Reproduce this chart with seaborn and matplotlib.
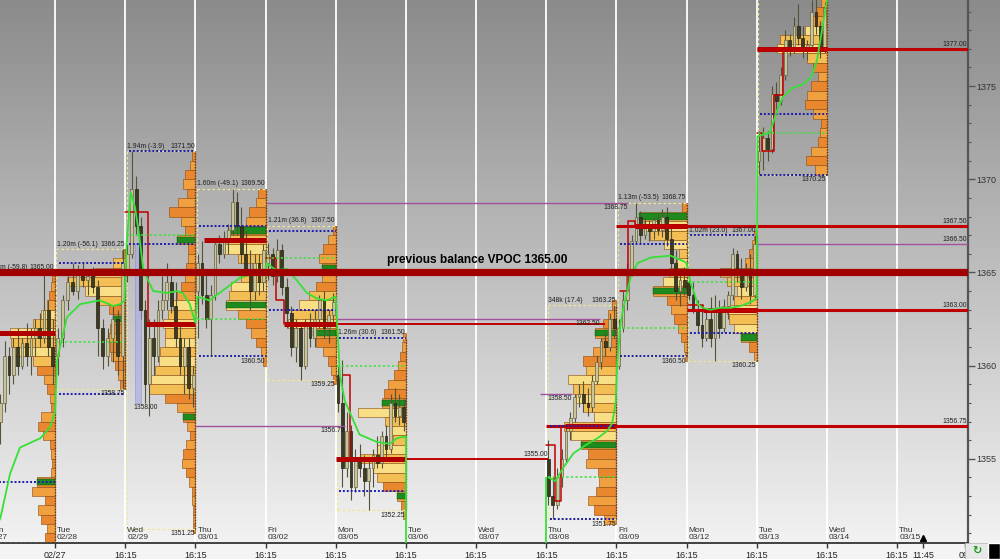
import numpy as np
import pandas as pd
import matplotlib
matplotlib.use("Agg")
import matplotlib.pyplot as plt
import seaborn as sns
from matplotlib import font_manager
from matplotlib.colors import LinearSegmentedColormap
from matplotlib.patches import Rectangle

sns.set_theme(style="white")
avail = {f.name for f in font_manager.fontManager.ttflist}
NARROW = "Liberation Sans Narrow" if "Liberation Sans Narrow" in avail else "Liberation Sans"
plt.rcParams["font.family"] = [NARROW, "DejaVu Sans"]

# ---------------- data ----------------
sessions = ["02/27", "02/28", "02/29", "03/01", "03/02", "03/05", "03/08", "03/09", "03/12", "03/13"]
sess_end = [0, 1, 2, 3, 4, 5, 8, 9, 10, 11]          # day slot where each session closes
sess_high = [1365.00, 1366.25, 1371.50, 1369.50, 1367.50, 1361.50, 1363.25, 1368.75, 1367.00, 1380.75]
sess_low = [1350.50, 1358.75, 1351.25, 1360.50, 1359.25, 1352.25, 1351.75, 1360.50, 1360.25, 1370.25]
vol_labels = ["1.38m (-59.8)", "1.20m (-56.1)", "1.94m (-3.9)", "1.60m (-49.1)", "1.21m (36.8)",
              "1.26m (30.6)", "348k (17.4)", "1.13m (-53.5)", "1.02m (23.0)", ""]
vpoc = [1361.75, 1365.00, 1362.25, 1366.75, 1362.25, 1355.00, 1356.75, 1367.50, 1363.00, 1377.00]
vpoc_from = [0.0, 0.1, 0.29, 0.13, 0.27, 0.0, 0.27, 0.27, 0.24, 0.0]
ib_high = [np.nan, 1365.50, 1371.50, 1367.50, 1367.25, 1361.50, 1356.75, 1366.50, 1367.00, 1373.50]
ib_low = [1353.75, 1358.50, 1366.50, 1360.50, 1363.00, 1353.25, 1351.75, 1360.50, 1361.75, 1370.25]
open_px = [np.nan, 1361.25, 1367.00, 1362.50, 1365.75, 1360.00, 1354.00, 1362.00, 1364.50, 1372.50]
va_lo = [1360.0, 1363.5, 1358.5, 1363.0, 1362.0, 1354.0, 1356.0, 1364.5, 1362.0, 1376.5]
va_hi = [1363.0, 1365.5, 1363.5, 1367.0, 1364.0, 1357.5, 1360.0, 1368.0, 1365.0, 1378.0]

# volume profiles: top price level, then volume per 0.5 pt going down
prof_top = [1364.75, 1366.0, 1371.25, 1369.25, 1367.25, 1361.5, 1363.25, 1368.5, 1367.0, 1380.0]
prof_0227 = [3, 4, 6, 8, 14, 22, 45, 44, 42, 22, 18, 11, 8, 5, 4, 14, 17, 12, 5, 4, 3, 4, 18, 23, 10, 17, 14, 8, 10]
prof_0228 = [3, 12, 30, 58, 40, 26, 16, 12, 15, 16, 15, 14, 10, 7, 5]
prof_0229 = [3, 5, 10, 12, 8, 17, 26, 14, 10, 18, 7, 7, 9, 10, 14, 18, 22, 27, 32, 30, 30, 35, 36, 40, 44, 46,
             30, 18, 12, 8, 5, 9, 12, 13, 9, 6, 3, 3, 2, 2, 2]
prof_0301 = [8, 10, 17, 20, 35, 38, 42, 28, 14, 25, 35, 37, 40, 28, 20, 15, 10, 5, 3]
prof_0302 = [3, 8, 13, 17, 14, 14, 20, 27, 37, 45, 48, 23, 20, 13, 8, 5, 3]
prof_0305 = [3, 4, 6, 8, 12, 18, 22, 24, 48, 21, 16, 13, 29, 46, 33, 29, 23, 9, 5, 3]
prof_0308 = [4, 8, 13, 21, 15, 23, 33, 30, 48, 43, 40, 33, 22, 52, 45, 35, 28, 30, 18, 17, 20, 28, 22, 12]
prof_0309 = [5, 48, 43, 37, 23, 8, 10, 18, 24, 34, 20, 16, 13, 9, 6, 3, 2]
prof_0312 = [3, 5, 8, 12, 37, 30, 20, 23, 30, 28, 23, 16, 8, 3]
prof_0313 = [4, 6, 11, 16, 22, 47, 50, 20, 14, 9, 16, 20, 22, 14, 6, 7, 9, 16, 21, 12]
profiles = [prof_0227, prof_0228, prof_0229, prof_0301, prof_0302, prof_0305, prof_0308, prof_0309, prof_0312, prof_0313]
green_levels = [[1353.75], [1362.5], [1366.75, 1357.25], [1367.25, 1363.25], [1365.25, 1361.75],
                [1358.0, 1353.0], [1361.75, 1355.75], [1368.0, 1364.0], [1365.0, 1361.5], []]

# candles (open, high, low, close)
cdl_0227 = [(1356.0, 1357.0, 1353.5, 1355.0), (1355.0, 1356.5, 1354.0, 1356.0), (1356.0, 1357.5, 1355.5, 1357.0),
            (1357.0, 1358.5, 1355.8, 1358.0), (1358.0, 1361.3, 1357.5, 1360.5), (1360.5, 1361.0, 1358.5, 1359.5),
            (1359.5, 1361.5, 1359.0, 1361.0), (1361.0, 1362.0, 1359.5, 1360.0), (1360.0, 1361.5, 1359.8, 1361.2),
            (1361.2, 1362.3, 1360.0, 1360.5), (1360.5, 1362.0, 1359.5, 1361.5), (1361.5, 1362.5, 1360.5, 1362.0),
            (1362.0, 1362.8, 1361.0, 1361.5), (1361.5, 1365.0, 1361.2, 1363.0), (1363.0, 1363.5, 1360.5, 1361.0),
            (1361.0, 1362.5, 1359.0, 1360.0)]
cdl_0228 = [(1360.5, 1362.0, 1359.5, 1361.5), (1361.5, 1363.8, 1361.0, 1363.5), (1363.5, 1364.8, 1363.0, 1364.5),
            (1364.5, 1365.5, 1363.8, 1364.0), (1364.0, 1365.4, 1363.6, 1365.0), (1365.0, 1365.5, 1364.2, 1364.6),
            (1364.6, 1365.2, 1363.8, 1364.8), (1364.8, 1365.3, 1363.9, 1364.2), (1364.2, 1364.6, 1360.5, 1362.0),
            (1362.0, 1362.5, 1359.8, 1360.5), (1360.5, 1362.0, 1360.0, 1361.5), (1361.5, 1363.2, 1360.2, 1362.5),
            (1362.5, 1363.0, 1359.5, 1360.5), (1360.5, 1366.25, 1358.75, 1365.5)]
cdl_0229 = [(1365.0, 1366.5, 1364.5, 1366.0), (1366.0, 1371.5, 1365.8, 1369.5), (1369.5, 1370.2, 1367.0, 1367.5),
            (1367.5, 1368.0, 1362.5, 1363.0), (1363.0, 1363.5, 1358.0, 1359.0), (1359.0, 1362.5, 1357.3, 1361.5),
            (1361.5, 1362.5, 1359.5, 1360.5), (1360.5, 1363.5, 1360.2, 1363.0), (1363.0, 1364.8, 1362.5, 1363.5),
            (1363.5, 1365.5, 1363.0, 1364.5), (1364.5, 1365.0, 1362.8, 1363.2), (1363.2, 1364.5, 1361.0, 1361.5),
            (1361.5, 1362.2, 1359.5, 1360.0), (1360.0, 1361.5, 1358.5, 1361.0), (1361.0, 1361.5, 1358.2, 1358.8),
            (1358.8, 1360.0, 1357.8, 1359.5)]
cdl_0301 = [(1364.0, 1366.0, 1361.5, 1365.5), (1365.5, 1366.7, 1363.3, 1363.8), (1363.8, 1365.0, 1362.0, 1362.5),
            (1362.5, 1364.3, 1360.5, 1363.8), (1363.8, 1366.8, 1363.5, 1366.5), (1366.5, 1367.0, 1365.5, 1366.0),
            (1366.0, 1367.2, 1365.8, 1366.8), (1366.8, 1367.6, 1366.0, 1367.3), (1367.3, 1369.5, 1367.0, 1368.8),
            (1368.8, 1369.3, 1367.0, 1367.5), (1367.5, 1368.5, 1365.5, 1366.0), (1366.0, 1367.3, 1364.8, 1365.2),
            (1365.2, 1366.2, 1363.0, 1364.0), (1364.0, 1366.0, 1363.5, 1365.5), (1365.5, 1366.0, 1363.8, 1364.5),
            (1364.5, 1366.5, 1364.0, 1366.2)]
cdl_0302 = [(1365.5, 1366.6, 1364.6, 1366.0), (1366.0, 1366.3, 1364.3, 1364.8), (1364.8, 1366.8, 1364.5, 1366.2),
            (1366.2, 1366.5, 1363.8, 1364.2), (1364.2, 1364.7, 1362.0, 1362.8), (1362.8, 1363.2, 1360.5, 1361.0),
            (1361.0, 1362.5, 1360.2, 1362.0), (1362.0, 1362.3, 1359.25, 1360.0), (1360.0, 1362.5, 1359.8, 1362.2),
            (1362.2, 1362.8, 1361.0, 1361.5), (1361.5, 1363.0, 1361.0, 1362.5), (1362.5, 1363.8, 1362.0, 1363.5),
            (1363.5, 1364.0, 1361.5, 1362.0), (1362.0, 1363.0, 1361.2, 1362.7), (1362.7, 1363.9, 1362.2, 1363.4)]
cdl_0305 = [(1359.5, 1360.0, 1357.5, 1358.0), (1358.0, 1360.3, 1353.5, 1354.5), (1354.5, 1357.5, 1354.0, 1356.5),
            (1356.5, 1356.8, 1352.8, 1353.5), (1353.5, 1355.5, 1353.2, 1355.0), (1355.0, 1355.8, 1354.0, 1354.5),
            (1354.5, 1355.2, 1353.0, 1353.8), (1353.8, 1355.0, 1352.25, 1354.5), (1354.5, 1355.5, 1353.5, 1355.2),
            (1355.2, 1356.2, 1354.5, 1354.8), (1354.8, 1356.5, 1354.5, 1356.2), (1356.2, 1356.8, 1355.0, 1355.5),
            (1355.5, 1358.5, 1355.3, 1358.0), (1358.0, 1358.8, 1357.0, 1357.3), (1357.3, 1358.5, 1356.8, 1357.8),
            (1357.8, 1358.2, 1356.5, 1357.0)]
cdl_0308 = [(1355.0, 1356.0, 1352.5, 1353.0), (1353.0, 1354.0, 1351.75, 1352.5), (1352.5, 1354.5, 1352.3, 1354.0),
            (1354.0, 1355.5, 1353.5, 1355.0), (1355.0, 1356.8, 1354.8, 1356.5), (1356.5, 1357.5, 1356.0, 1357.2),
            (1357.2, 1358.5, 1357.0, 1358.3), (1358.3, 1359.0, 1357.8, 1358.5), (1358.5, 1359.2, 1357.5, 1358.0),
            (1358.0, 1358.8, 1357.3, 1357.8), (1357.8, 1359.5, 1357.5, 1359.2), (1359.2, 1360.5, 1359.0, 1360.2),
            (1360.2, 1361.5, 1359.8, 1361.3), (1361.3, 1361.8, 1360.5, 1361.0), (1361.0, 1362.8, 1360.8, 1362.5),
            (1362.5, 1363.25, 1361.5, 1362.0)]
cdl_0309 = [(1360.0, 1362.5, 1359.8, 1362.0), (1362.0, 1364.0, 1361.8, 1363.5), (1363.5, 1365.5, 1363.0, 1365.0),
            (1365.0, 1367.0, 1364.8, 1366.7), (1366.7, 1368.75, 1366.5, 1368.0), (1368.0, 1368.3, 1366.6, 1367.0),
            (1367.0, 1368.0, 1366.8, 1367.6), (1367.6, 1367.8, 1366.7, 1367.2), (1367.2, 1368.0, 1366.8, 1367.8),
            (1367.8, 1368.2, 1367.0, 1367.3), (1367.3, 1368.4, 1366.9, 1368.0), (1368.0, 1368.5, 1366.4, 1366.8),
            (1366.8, 1367.6, 1365.0, 1365.5), (1365.5, 1366.2, 1363.5, 1364.0), (1364.0, 1365.0, 1363.2, 1364.6),
            (1364.6, 1365.3, 1363.8, 1364.2)]
cdl_0312 = [(1364.5, 1365.0, 1363.5, 1363.8), (1363.8, 1364.5, 1362.8, 1363.0), (1363.0, 1363.5, 1361.8, 1362.2),
            (1362.2, 1363.3, 1361.0, 1361.5), (1361.5, 1363.0, 1361.3, 1362.5), (1362.5, 1363.7, 1361.0, 1361.5),
            (1361.5, 1363.8, 1360.25, 1363.0), (1363.0, 1363.5, 1361.5, 1362.0), (1362.0, 1363.6, 1361.8, 1363.2),
            (1363.2, 1364.0, 1362.5, 1363.8), (1363.8, 1366.3, 1363.5, 1366.0), (1366.0, 1366.2, 1364.5, 1365.0),
            (1365.0, 1365.8, 1363.6, 1364.2), (1364.2, 1365.5, 1364.0, 1365.2), (1365.2, 1366.0, 1363.3, 1363.8),
            (1363.8, 1367.0, 1363.5, 1366.5)]
cdl_0313 = [(1371.0, 1372.6, 1370.25, 1371.5), (1371.5, 1372.8, 1370.5, 1372.2), (1372.2, 1372.6, 1371.0, 1371.6),
            (1371.6, 1375.0, 1371.4, 1374.6), (1374.6, 1375.2, 1373.5, 1374.2), (1374.2, 1376.0, 1374.0, 1375.6),
            (1375.6, 1378.0, 1375.3, 1377.5), (1377.5, 1377.8, 1376.6, 1377.0), (1377.0, 1378.7, 1376.8, 1378.2),
            (1378.2, 1379.4, 1377.2, 1377.6), (1377.6, 1378.2, 1376.5, 1377.0), (1377.0, 1377.5, 1376.4, 1377.2),
            (1377.2, 1379.6, 1377.0, 1379.0), (1379.0, 1379.8, 1377.8, 1378.2), (1378.2, 1378.5, 1376.5, 1377.0),
            (1377.0, 1379.5, 1376.8, 1379.2)]
candles = [cdl_0227, cdl_0228, cdl_0229, cdl_0301, cdl_0302, cdl_0305, cdl_0308, cdl_0309, cdl_0312, cdl_0313]

# session VWAP (fraction of session, price)
vwap = [
    [(0.10, 1350.8), (0.22, 1351.8), (0.36, 1354.2), (0.50, 1355.6), (0.79, 1356.1), (0.93, 1356.7), (1.0, 1357.5)],
    [(0.03, 1360.3), (0.17, 1362.6), (0.36, 1363.3), (0.64, 1363.5), (0.83, 1363.2), (0.93, 1363.3), (0.99, 1363.5)],
    [(0.02, 1366.5), (0.08, 1369.3), (0.14, 1368.5), (0.20, 1367.0), (0.26, 1365.1), (0.40, 1364.0),
     (0.60, 1363.9), (0.74, 1364.0), (0.82, 1363.9), (0.92, 1363.3), (1.0, 1362.3)],
    [(0.03, 1363.7), (0.20, 1363.5), (0.38, 1364.0), (0.63, 1364.7), (0.87, 1365.0), (1.0, 1365.1)],
    [(0.01, 1365.5), (0.16, 1365.1), (0.30, 1365.2), (0.44, 1364.6), (0.59, 1363.9), (0.73, 1363.6),
     (0.87, 1363.5), (1.0, 1363.7)],
    [(0.06, 1359.5), (0.13, 1358.1), (0.34, 1356.3), (0.59, 1355.9), (0.77, 1355.8), (0.87, 1356.1), (1.0, 1356.2)],
    [(0.03, 1354.0), (0.13, 1353.8), (0.24, 1354.5), (0.39, 1355.3), (0.59, 1355.8), (0.73, 1356.1),
     (0.87, 1356.5), (0.94, 1356.9), (0.99, 1358.0)],
    [(0.01, 1360.1), (0.06, 1362.3), (0.10, 1363.1), (0.20, 1364.7), (0.30, 1365.5), (0.49, 1365.8),
     (0.77, 1365.9), (0.96, 1365.6), (1.0, 1365.5)],
    [(0.06, 1364.4), (0.10, 1364.0), (0.16, 1363.3), (0.23, 1363.1), (0.34, 1363.0), (0.48, 1363.1),
     (0.63, 1363.1), (0.77, 1363.2), (0.91, 1363.4), (1.0, 1363.6)],
    [(0.01, 1372.3), (0.19, 1372.5), (0.29, 1373.7), (0.37, 1374.4), (0.51, 1374.9), (0.66, 1375.1),
     (0.78, 1375.5), (0.86, 1376.4), (0.93, 1378.0), (1.0, 1379.6)],
]

# developing POC steps (fraction of session, price)
dev_poc = [[], [], [(0.0, 1368.25), (0.33, 1362.25)], [], [(0.0, 1365.75), (0.15, 1363.5), (0.27, 1362.25)],
           [(0.1, 1359.5), (0.2, 1355.0)], [(0.0, 1355.75), (0.12, 1352.75), (0.21, 1356.75)],
           [(0.05, 1364.0), (0.17, 1367.75), (0.27, 1367.5)], [(0.02, 1363.25), (0.24, 1363.0)],
           [(0.0, 1372.5), (0.07, 1371.5), (0.24, 1374.5), (0.38, 1377.0)]]

# naked levels carried forward
ext_price = [1377.00, 1367.50, 1366.50, 1363.00, 1356.75, 1362.25, 1362.50, 1355.00, 1368.75, 1356.75, 1358.50]
ext_from = [10.0, 8.0, 10.0, 9.0, 7.0, 4.0, 4.0, 5.0, 3.02, 2.0, 6.91]
ext_to = [13.05, 13.05, 13.05, 13.05, 13.05, 7.84, 7.77, 7.03, 8.17, 4.13, 7.37]
ext_kind = ["red", "red", "purple", "red", "red", "thin", "purple", "thin", "purple", "purple", "purple"]
ext_label = ["1377.00", "1367.50", "1366.50", "1363.00", "1356.75", "", "1362.50", "1355.00", "1368.75",
             "1356.75", "1358.50"]

balance_vpoc = 1365.00
single_print = (2, 0.14, 0.22, 1358.0, 1366.5)   # session idx, x from, x to, low, high

day_names = ["Tue", "Wed", "Thu", "Fri", "Mon", "Tue", "Wed", "Thu", "Fri", "Mon", "Tue", "Wed", "Thu"]
day_dates = ["02/28", "02/29", "03/01", "03/02", "03/05", "03/06", "03/07", "03/08", "03/09", "03/12",
             "03/13", "03/14", "03/15"]
xtick_pos = [0, 1, 2, 3, 4, 5, 6, 7, 8, 9, 10, 11, 12, 12.37, 12.97]
xtick_lbl = ["02/27"] + ["16:15"] * 12 + ["11:45", "09:"]
now_slot = 12.37

# ---------------- figure ----------------
PX_PER_DAY = 70.17
XMIN, XMAX = -0.784, 13.011
YMIN, YMAX = 1350.48, 1379.62

fig = plt.figure(figsize=(10, 5.59), dpi=100)
fig.patch.set_facecolor("#f4f4f4")
bottom, height = 16 / 559, 543 / 559
bg = fig.add_axes([0, bottom, 1, height], zorder=0)
bg.imshow(np.linspace(0, 1, 256)[:, None], aspect="auto", extent=[0, 1, 0, 1],
          cmap=LinearSegmentedColormap.from_list("bg", ["#8b8b8b", "#f2f2f2"]))
bg.set_axis_off()

ax = fig.add_axes([0, bottom, 0.968, height], zorder=1)
ax.patch.set_alpha(0)

for d in range(0, 13):
    ax.axvline(d, color="white", lw=1.3, zorder=1)

small = dict(fontsize=4.9, color="#1e1e1e", clip_on=True, zorder=9)

for k in range(len(sessions)):
    s, e = sess_end[k] - 1, sess_end[k]
    vols = np.array(profiles[k], float)
    lv = prof_top[k] - 0.5 * np.arange(len(vols))
    inside = (lv >= va_lo[k]) & (lv <= va_hi[k])
    cols = [("#f8df86" if i % 2 == 0 else "#f3bf55") if inside[i] else ("#e8872e" if i % 2 == 0 else "#f0a03e")
            for i in range(len(lv))]
    ax.barh(lv, -vols / PX_PER_DAY, left=e, height=0.5, color=cols, edgecolor="#8a4a12", linewidth=0.4, zorder=2)
    for g in green_levels[k]:
        i = int(np.argmin(np.abs(lv - g)))
        ax.barh(lv[i], -vols[i] / PX_PER_DAY, left=e, height=0.34, color="#1f8b1f",
                edgecolor="#0d4d0d", linewidth=0.3, zorder=2.5)
    ax.vlines(e, sess_low[k], sess_high[k], colors="#6e3208", linestyles=(0, (1, 1)), lw=1, zorder=2.6)

    # session range box
    ax.hlines([sess_high[k], sess_low[k]], s + 0.02, e, colors="#efe890", linestyles=(0, (2, 2)), lw=0.9, zorder=2.8)
    ax.vlines(s + 0.02, sess_low[k], sess_high[k], colors="#efe890", linestyles=(0, (2, 2)), lw=0.9, zorder=2.8)

    # candles
    o, h, l, c = map(np.array, zip(*candles[k]))
    n = len(o)
    x = s + (np.arange(n) + 0.5) / n
    ax.vlines(x, l, h, color="#55523a", lw=0.8, zorder=3)
    up = c >= o
    ax.bar(x[up], (c - o)[up], bottom=o[up], width=0.62 / n, color="#c9c49e", edgecolor="#67643f", lw=0.5, zorder=3.1)
    ax.bar(x[~up], (c - o)[~up], bottom=o[~up], width=0.62 / n, color="#3c3b22", edgecolor="#22220f", lw=0.5,
           zorder=3.1)

    # value lines
    ax.hlines(vpoc[k], s + vpoc_from[k], e, colors="#b00000", lw=3.6, zorder=4)
    if dev_poc[k]:
        fx, fp = zip(*dev_poc[k])
        ax.plot(s + np.array(fx), fp, drawstyle="steps-post", color="#c00000", lw=1.1, zorder=4)
    if not np.isnan(ib_high[k]):
        ax.hlines(ib_high[k], s + 0.05, e, colors="#1c1cae", linestyles=(0, (1, 1)), lw=1.4, zorder=5)
    ax.hlines(ib_low[k], s + 0.05, e, colors="#1c1cae", linestyles=(0, (1, 1)), lw=1.4, zorder=5)
    if not np.isnan(open_px[k]):
        ax.hlines(open_px[k], s + 0.02, e, colors="#3de03d", linestyles=(0, (1.5, 1.5)), lw=1.1, zorder=5)

    # labels (only where the session range is on the chart)
    if sess_high[k] < YMAX:
        ax.text(s + 0.03, sess_high[k] + 0.08, vol_labels[k], ha="left", va="bottom", **small)
        ax.text(e - 0.01, sess_high[k] + 0.08, f"{sess_high[k]:.2f}", ha="right", va="bottom", **small)
    if sess_low[k] > YMIN:
        ax.text(e - 0.01, sess_low[k] - 0.08, f"{sess_low[k]:.2f}", ha="right", va="top", **small)

# single prints strip on 02/29
sk, sx0, sx1, slo, shi = single_print
ax.add_patch(Rectangle((sess_end[sk] - 1 + sx0, slo), sx1 - sx0, shi - slo, facecolor="#a7a9e8",
                       edgecolor="#7f82cc", lw=0.5, alpha=0.6, zorder=3.05))
ax.text(sess_end[sk] - 1 + sx1 + 0.25, slo - 0.08, f"{slo:.2f}", ha="right", va="top", **small)

# carried-forward levels
for p, x0, x1, kind, lab in zip(ext_price, ext_from, ext_to, ext_kind, ext_label):
    if kind == "red":
        ax.hlines(p, x0, x1, colors="#c00000", lw=2.2, zorder=4.5)
    elif kind == "thin":
        ax.hlines(p, x0, x1, colors="#c00000", lw=1.4, zorder=4.5)
    else:
        ax.hlines(p, x0, x1, colors="#a052a0", lw=1.0, zorder=4.5)
    if lab:
        ax.text(min(x1, XMAX - 0.01), p - 0.06 if kind == "purple" and x1 < 9 else p + 0.06, lab, ha="right",
                va="top" if kind == "purple" and x1 < 9 else "bottom", **small)

# VWAP, drawn continuously per block of consecutive sessions
rows = []
for k, pts in enumerate(vwap):
    for f, p in pts:
        rows.append({"x": sess_end[k] - 1 + f, "vwap": p, "block": 0 if sess_end[k] <= 5 else 1})
vw = pd.DataFrame(rows)
sns.lineplot(data=vw, x="x", y="vwap", units="block", estimator=None, sort=False,
             color="#36e036", lw=1.3, ax=ax, zorder=6)
ax.vlines(sess_end[5], YMIN - 1, vwap[5][-1][1], color="#36e036", lw=1.3, zorder=6)
ax.vlines(sess_end[6] - 1, YMIN - 1, vwap[6][0][1], color="#36e036", lw=1.3, zorder=6)

# previous balance VPOC
ax.axhline(balance_vpoc, color="#a00000", lw=5.2, zorder=7)
ax.text(4.73, balance_vpoc + 0.35, f"previous balance VPOC {balance_vpoc:.2f}", ha="left", va="bottom",
        fontsize=8.6, fontweight="bold", color="black", zorder=9)

# day labels inside plot
for d, (nm, dt) in enumerate(zip(day_names, day_dates)):
    ax.text(d + 0.03, YMIN + 0.12, f"{nm}\n{dt}", ha="left", va="bottom", fontsize=6, color="#333333",
            linespacing=0.95, clip_on=True, zorder=9)
ax.text(-0.97, YMIN + 0.12, "Mon\n02/27", ha="left", va="bottom", fontsize=6, color="#333333",
        linespacing=0.95, clip_on=True, zorder=9)
ax.plot([now_slot], [YMIN + 0.25], marker="^", ms=4, color="black", clip_on=False, zorder=9)

# axes
ax.set_xlim(XMIN, XMAX)
ax.set_ylim(YMIN, YMAX)
ax.set_xlabel("")
ax.set_ylabel("")
ax.set_xticks(xtick_pos)
ax.set_xticklabels(xtick_lbl)
ax.yaxis.tick_right()
ax.set_yticks([1355, 1360, 1365, 1370, 1375])
ax.set_yticks(np.arange(1351, 1380), minor=True)
ax.tick_params(axis="y", which="major", direction="out", length=5, width=1, color="#555555",
               labelsize=6.5, labelcolor="#333333", pad=1, right=True, left=False)
ax.tick_params(axis="y", which="minor", direction="out", length=2.5, width=0.8, color="#555555", right=True)
ax.tick_params(axis="x", which="major", direction="out", length=3.5, width=1, color="#333333",
               labelsize=6.5, labelcolor="#222222", pad=2, bottom=True)
for side in ("left", "top"):
    ax.spines[side].set_visible(False)
ax.spines["right"].set_color("#555555")
ax.spines["right"].set_linewidth(1.6)
ax.spines["bottom"].set_color("#333333")
ax.spines["bottom"].set_linewidth(1.3)

# bottom-right status icon
fig.patches.append(Rectangle((0.965, 0), 0.023, 16 / 559, transform=fig.transFigure, facecolor="#e8e8e8",
                             edgecolor="#bbbbbb", lw=0.6, zorder=10))
fig.patches.append(Rectangle((0.988, 0), 0.012, 16 / 559, transform=fig.transFigure, facecolor="black",
                             zorder=10))
fig.text(0.9765, 8 / 559, "\u21bb", ha="center", va="center", fontsize=8, color="#1a9a1a",
         family="DejaVu Sans", fontweight="bold", zorder=11)

fig.savefig("out.png", dpi=100)
